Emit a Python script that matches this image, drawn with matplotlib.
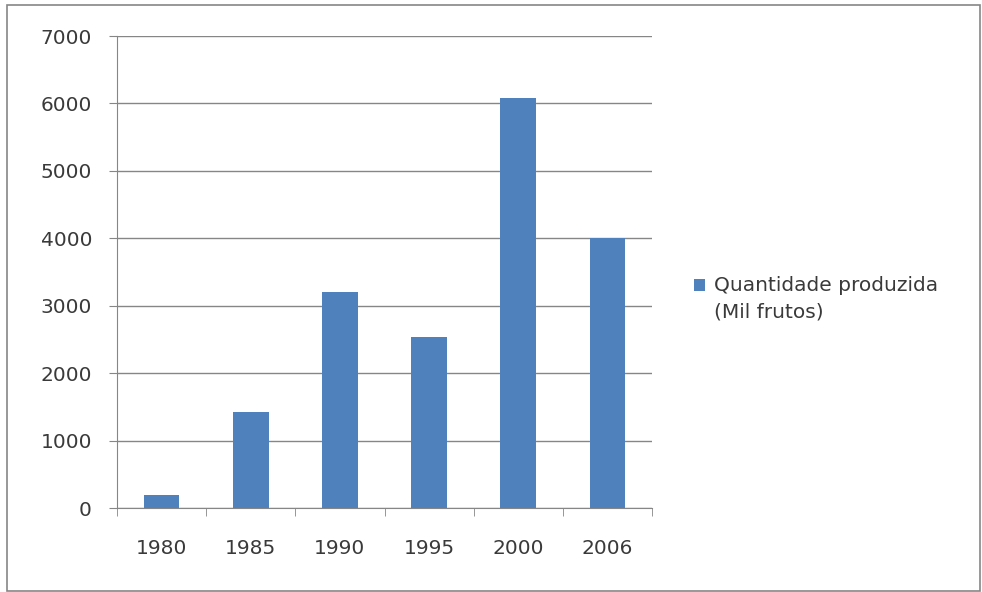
import matplotlib.pyplot as plt
from matplotlib.patches import Rectangle
from matplotlib.legend_handler import HandlerPatch

years = ['1980', '1985', '1990', '1995', '2000', '2006']
producao = [188, 1430, 3200, 2530, 6080, 4010]
serie = 'Quantidade produzida\n(Mil frutos)'

fig = plt.figure(figsize=(9.82, 5.92), dpi=100)
ax = fig.add_axes([117/982, 1 - 508/592, (652-117)/982, (508-36)/592])

x = range(len(years))
bars = ax.bar(x, producao, width=0.4, color='#4F81BD', zorder=3)

ax.set_xlim(-0.5, len(years) - 0.5)
ax.set_ylim(0, 7000)
ax.set_yticks(range(0, 7001, 1000))
ax.set_xticks(list(x))
ax.set_xticklabels(years)
ax.set_xticks([i - 0.5 for i in range(len(years) + 1)], minor=True)

ax.grid(axis='y', color='#868686', linewidth=1, zorder=0)
for s in ['top', 'right']:
    ax.spines[s].set_visible(False)
for s in ['left', 'bottom']:
    ax.spines[s].set_color('#868686')

ax.tick_params(axis='y', length=6, color='#868686', pad=12, labelsize=14.5, labelcolor='#3a3a3a')
ax.tick_params(axis='x', which='major', length=0, pad=22, labelsize=14.5, labelcolor='#3a3a3a')
ax.tick_params(axis='x', which='minor', length=6, color='#868686')


# square on the first line of the label, like Excel
def square_top(legend, orig_handle, xdescent, ydescent, width, height, fontsize):
    return Rectangle((-xdescent, -ydescent + 10.5), width, height)


leg = ax.legend([bars.patches[0]], [serie], loc='center left',
                bbox_to_anchor=(694/982, 1 - 299/592),
                bbox_transform=fig.transFigure, frameon=False, fontsize=14.5,
                handlelength=0.55, handleheight=0.55, handletextpad=0.45,
                borderpad=0, borderaxespad=0, labelcolor='#3a3a3a',
                handler_map={Rectangle: HandlerPatch(patch_func=square_top)})
for t in leg.get_texts():
    t.set_linespacing(1.5)

fig.patches.append(Rectangle((7/982, 0.002), 973/982, 1 - 5/592 - 0.002,
                             transform=fig.transFigure, fill=False,
                             edgecolor='#868686', linewidth=1.2))

fig.savefig('out.png', dpi=100)
